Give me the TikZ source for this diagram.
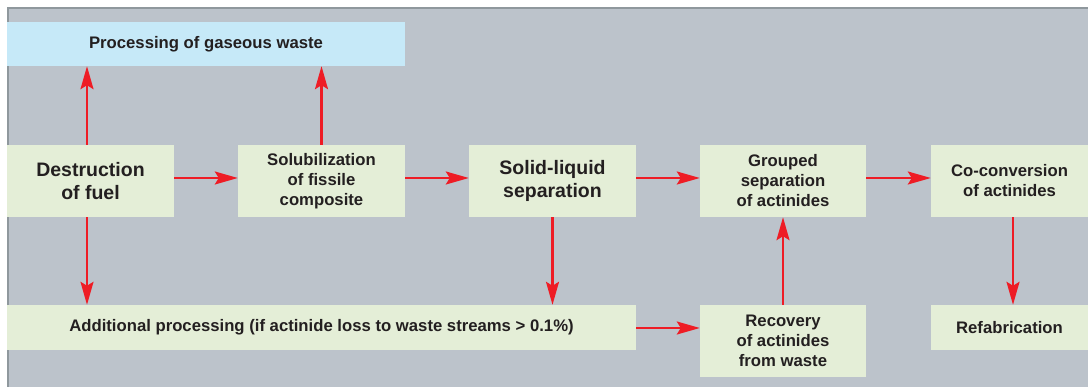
\documentclass[tikz,border=0pt]{standalone}
\usepackage{fontspec}
\setmainfont{Liberation Sans}
\usetikzlibrary{arrows.meta}
\definecolor{panel}{HTML}{BCC3CB}
\definecolor{edge}{HTML}{8F989D}
\definecolor{boxg}{HTML}{E4EED7}
\definecolor{boxb}{HTML}{C6E9F8}
\definecolor{arr}{HTML}{EE1C25}
\definecolor{txt}{HTML}{231F20}
\begin{document}
\begin{tikzpicture}[x=1pt,y=-1pt,
  box/.style={fill=boxg,draw=none,inner sep=0pt,text=txt,align=center,font=\bfseries\fontsize{16.7}{20}\selectfont},
  bigbox/.style={box,font=\bfseries\fontsize{19.5}{23}\selectfont},
  arrowline/.style={draw=arr,line width=2.3pt,-{Stealth[length=23pt,width=13pt,inset=4pt]}}]
\useasboundingbox (0,0) rectangle (1088,387);
\fill[white] (0,0) rectangle (1088,387);
\fill[panel] (7,7) rectangle (1088,387);
\draw[edge,line width=1.6pt] (7.8,387) -- (7.8,7.8) -- (1088,7.8);
% boxes
\node[box,fill=boxb,minimum width=398pt,minimum height=44pt] (gas) at (206,44) {Processing of gaseous waste};
\node[bigbox,minimum width=167pt,minimum height=72pt] (dest) at (90.5,181) {Destruction\\of fuel};
\node[box,minimum width=167pt,minimum height=72pt] (solu) at (321.5,181) {Solubilization\\of fissile\\composite};
\node[bigbox,minimum width=167pt,minimum height=72pt] (sl) at (552.5,181) {Solid-liquid\\separation};
\node[box,minimum width=166pt,minimum height=72pt] (grp) at (783,181) {Grouped\\separation\\of actinides};
\node[box,minimum width=157pt,minimum height=72pt] (cocon) at (1009.5,181) {Co-conversion\\of actinides};
\node[box,minimum width=629pt,minimum height=45pt] (add) at (321.5,327.5) {Additional processing (if actinide loss to waste streams > 0.1\%)};
\node[box,minimum width=166pt,minimum height=72pt] (rec) at (783,341) {Recovery\\of actinides\\from waste};
\node[box,minimum width=157pt,minimum height=45pt] (refab) at (1009.5,327.5) {Refabrication};
% arrows
\draw[arrowline] (dest.north -| 87,0) -- (gas.south -| 87,0);
\draw[arrowline] (solu.north) -- (gas.south -| solu.north);
\draw[arrowline] (dest.east |- 0,178) -- (solu.west |- 0,178);
\draw[arrowline] (solu.east |- 0,178) -- (sl.west |- 0,178);
\draw[arrowline] (sl.east |- 0,178) -- (grp.west |- 0,178);
\draw[arrowline] (grp.east |- 0,178) -- (cocon.west |- 0,178);
\draw[arrowline] (dest.south -| 87,0) -- (add.north -| 87,0);
\draw[arrowline] (sl.south) -- (add.north -| sl.south);
\draw[arrowline] (add.east |- 0,328) -- (rec.west |- 0,328);
\draw[arrowline] (rec.north) -- (grp.south);
\draw[arrowline] (cocon.south -| 1013,0) -- (refab.north -| 1013,0);
\end{tikzpicture}
\end{document}
